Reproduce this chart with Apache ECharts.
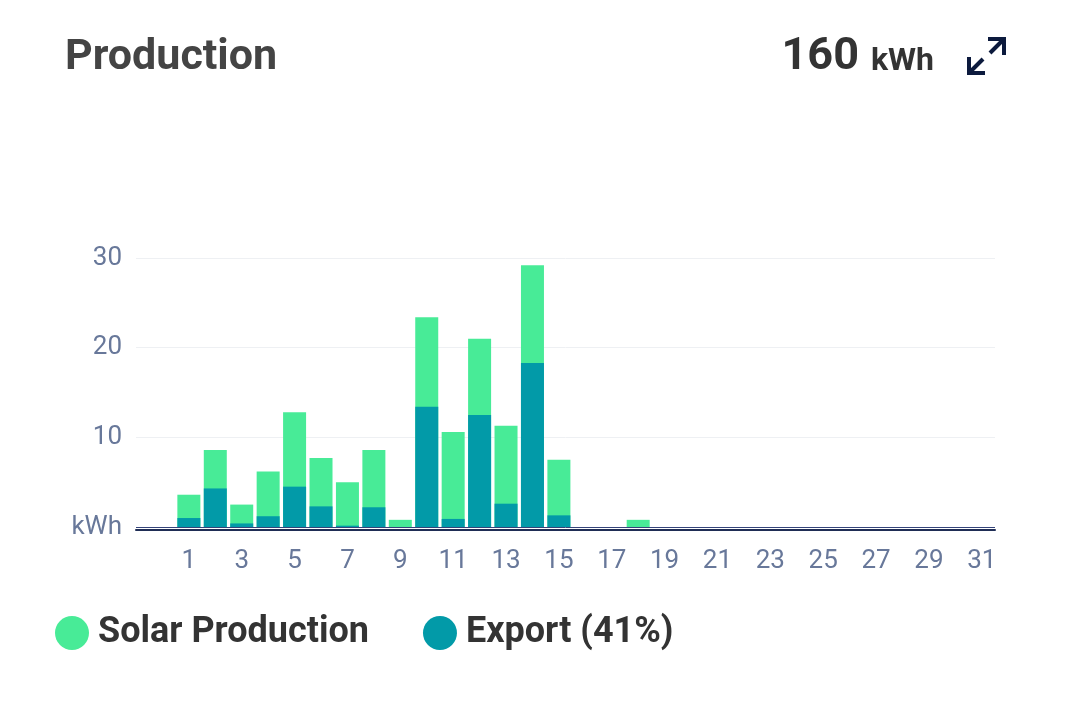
<!DOCTYPE html>
<html>
<head>
<meta charset="utf-8">
<script src="https://cdn.jsdelivr.net/npm/echarts@6/dist/echarts.min.js"></script>
<style>
html,body{margin:0;padding:0;background:#fff;}
#c{width:1080px;height:705px;}
</style>
</head>
<body>
<div id="c"></div>
<script>
// ---- data ----
const days = [1,2,3,4,5,6,7,8,9,10,11,12,13,14,15,16,17,18,19,20,21,22,23,24,25,26,27,28,29,30,31];
const solarProduction = [3.6, 8.6, 2.5, 6.2, 12.8, 7.7, 5.0, 8.6, 0.8, 23.4, 10.6, 21.0, 11.3, 29.2, 7.5, null, null, 0.8, null, null, null, null, null, null, null, null, null, null, null, null, null];
const exportValues = [1.0, 4.3, 0.4, 1.2, 4.5, 2.3, 0.15, 2.2, 0, 13.4, 0.9, 12.5, 2.6, 18.3, 1.3, null, null, null, null, null, null, null, null, null, null, null, null, null, null, null, null];
const xTickLabels = [1,3,5,7,9,11,13,15,17,19,21,23,25,27,29,31];
const yTicks = [0,10,20,30];
const totalText = '160';
const exportPct = '41%';

const FONT = 'Roboto, "Noto Sans", sans-serif';
const chart = echarts.init(document.getElementById('c'));

const prodData = days.map((d, i) => [d, solarProduction[i]]);
const expData = days.map((d, i) => [d, exportValues[i]]);

chart.setOption({
  backgroundColor: '#ffffff',
  animation: false,
  title: [
    {
      text: 'Production',
      left: 60, top: 32,
      textStyle: {fontFamily: FONT, fontSize: 43, fontWeight: 'bold', color: '#444444'}
    },
    {
      text: '{a|' + totalText + '}{b|kWh}',
      right: 141, top: 30,
      textStyle: {
        rich: {
          a: {fontFamily: FONT, fontSize: 45, fontWeight: 'bold', color: '#333333', verticalAlign: 'bottom'},
          b: {fontFamily: FONT, fontSize: 32, fontWeight: 'bold', color: '#333333', verticalAlign: 'bottom', padding: [0, 0, 2, 12]}
        }
      }
    }
  ],
  graphic: [
    {type: 'group', children: [
      {type: 'polyline', shape: {points: [[988,39],[1004,39],[1004,55]]}, style: {stroke: '#0c1a3d', lineWidth: 4, fill: null}},
      {type: 'line', shape: {x1: 1002, y1: 41, x2: 990, y2: 53}, style: {stroke: '#0c1a3d', lineWidth: 4}},
      {type: 'polyline', shape: {points: [[969,57],[969,73],[985,73]]}, style: {stroke: '#0c1a3d', lineWidth: 4, fill: null}},
      {type: 'line', shape: {x1: 971, y1: 71, x2: 983, y2: 59}, style: {stroke: '#0c1a3d', lineWidth: 4}}
    ]}
  ],
  legend: {
    left: 50, top: 610,
    icon: 'circle',
    itemWidth: 34, itemHeight: 34,
    itemGap: 54,
    selectedMode: false,
    textStyle: {fontFamily: FONT, fontSize: 36, fontWeight: 'bold', color: '#333333', padding: [0,0,0,4]},
    data: ['Solar Production', 'Export (' + exportPct + ')']
  },
  grid: {left: 136, right: 85, top: 258, bottom: 178, containLabel: false},
  xAxis: {
    type: 'value',
    min: -1, max: 31.5,
    offset: 3,
    axisLine: {show: true, onZero: false, lineStyle: {color: '#1f2d55', width: 2}},
    axisTick: {show: false},
    splitLine: {show: false},
    axisLabel: {
      customValues: xTickLabels,
      margin: 18,
      fontFamily: FONT, fontSize: 26, color: '#68789a'
    }
  },
  yAxis: {
    type: 'value',
    min: 0, max: 30, interval: 10,
    axisLine: {show: false},
    axisTick: {show: false},
    splitLine: {lineStyle: {color: '#eef0f3', width: 1}},
    axisLabel: {
      margin: 14,
      fontFamily: FONT, fontSize: 26, color: '#68789a',
      formatter: v => (v === yTicks[0] ? 'kWh' : String(v))
    }
  },
  series: [
    {
      name: 'Solar Production',
      type: 'bar',
      data: prodData,
      barWidth: 23,
      barGap: '-100%',
      itemStyle: {color: '#48eb97'},
      markLine: {
        silent: true, symbol: 'none',
        label: {show: false},
        lineStyle: {color: '#34447a', width: 1, type: 'solid'},
        data: [{yAxis: 0}]
      }
    },
    {
      name: 'Export (' + exportPct + ')',
      type: 'bar',
      data: expData,
      barWidth: 23,
      barGap: '-100%',
      itemStyle: {color: '#029aa8'}
    }
  ]
});
</script>
</body>
</html>
